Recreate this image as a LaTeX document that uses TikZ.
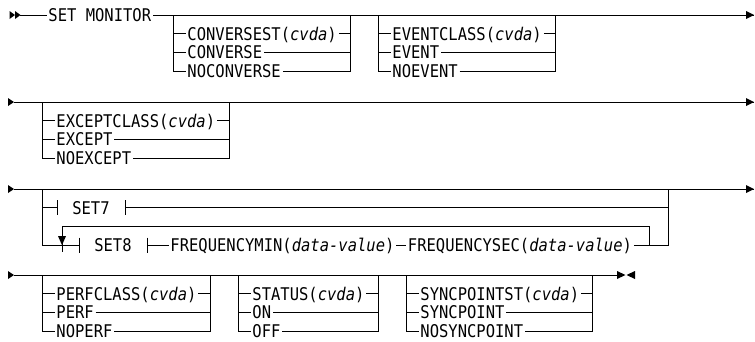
\documentclass[tikz,border=0pt]{standalone}
\usepackage{fontspec}
\setmainfont{DejaVu Sans Mono}[FakeStretch=0.886]
\begin{document}
\begin{tikzpicture}[x=1pt,y=-1pt,line width=0.9pt,
  lbl/.style={anchor=west,inner xsep=1.5pt,inner ysep=0pt,text height=12.8pt,text depth=0pt,
    font=\fontsize{17.5}{20}\selectfont},
  frag/.style={inner sep=0pt,minimum width=0pt,minimum height=14pt}]
\useasboundingbox (0,0) rectangle (755,341);
\def\dy{18.7}
\newcommand\rrgroup[7]{%
  \coordinate (#1L) at (#2,#4);
  \coordinate (#1R) at (#3,#4);
  \node[lbl] (#1a) at (#2+12.5,#4+\dy) {#5};
  \node[lbl] (#1b) at (#2+12.5,#4+2*\dy) {#6};
  \node[lbl] (#1c) at (#2+12.5,#4+3*\dy) {#7};
  \draw (#1L) |- (#1c.west);
  \draw (#1L |- #1a) -- (#1a.west);
  \draw (#1L |- #1b) -- (#1b.west);
  \draw (#1c.east) -| (#1R);
  \draw (#1a.east) -- (#1a -| #1R);
  \draw (#1b.east) -- (#1b -| #1R);
}
% ---------------- Row 1
\coordinate (s1) at (20,15);
\fill (9.5,11) -- (15,15) -- (9.5,19) -- cycle;
\fill (15,11) -- (20.5,15) -- (15,19) -- cycle;
\node[lbl] (setmon) at (46.5,15) {SET MONITOR};
\coordinate (e1) at (754,15);
\draw (s1) -- (setmon.west);
\draw (setmon.east) -- (e1);
\fill (e1) -- ++(-8,-4) -- ++(0,8) -- cycle;
\rrgroup{ga}{173}{350}{15}{CONVERSEST(\textit{cvda})}{CONVERSE}{NOCONVERSE}
\rrgroup{gb}{378}{555}{15}{EVENTCLASS(\textit{cvda})}{EVENT}{NOEVENT}
% ---------------- Row 2
\coordinate (s2) at (14,102);
\coordinate (e2) at (754,102);
\fill (s2) -- ++(-6,-4) -- ++(0,8) -- cycle;
\draw (s2) -- (e2);
\fill (e2) -- ++(-8,-4) -- ++(0,8) -- cycle;
\rrgroup{gc}{42}{229}{102}{EXCEPTCLASS(\textit{cvda})}{EXCEPT}{NOEXCEPT}
% ---------------- Row 3
\coordinate (s3) at (14,189);
\coordinate (e3) at (754,189);
\fill (s3) -- ++(-6,-4) -- ++(0,8) -- cycle;
\draw (s3) -- (e3);
\fill (e3) -- ++(-8,-4) -- ++(0,8) -- cycle;
\coordinate (L3) at (42,189);
\coordinate (R3) at (668,189);
% SET7
\node[frag] (b7a) at (57,189+\dy) {};
\node[lbl,anchor=center] (set7) at (91,189+\dy) {SET7};
\node[frag] (b7b) at (125,189+\dy) {};
\draw (b7a.north) -- (b7a.south);
\draw (b7b.north) -- (b7b.south);
\draw (L3) |- (b7a.center);
\draw (b7b.center) -| (R3);
% SET8
\node[frag] (b8a) at (79,189+3*\dy) {};
\node[lbl,anchor=center] (set8) at (113,189+3*\dy) {SET8};
\node[frag] (b8b) at (147,189+3*\dy) {};
\draw (b8a.north) -- (b8a.south);
\draw (b8b.north) -- (b8b.south);
\draw (L3) |- (b8a.center);
\node[lbl] (fmin) at (168.5,189+3*\dy) {FREQUENCYMIN(\textit{data-value})};
\node[lbl] (fsec) at (406,189+3*\dy) {FREQUENCYSEC(\textit{data-value})};
\draw (b8b.center) -- (fmin.west);
\draw (fmin.east) -- (fsec.west);
\coordinate (ri) at (649,189+3*\dy);
\draw (fsec.east) -- (ri) -- (ri -| R3) -- (R3);
% loop back
\coordinate (lt) at (62,189+2*\dy);
\coordinate (ltip) at (62,189+3*\dy);
\draw (ri) -- (ri |- lt) -- (lt) -- ([yshift=-7pt]ltip);
\fill (ltip) -- ++(-4,-9) -- ++(8,0) -- cycle;
% ---------------- Row 4
\coordinate (s4) at (14,275);
\coordinate (e4) at (617,275);
\fill (s4) -- ++(-6,-4) -- ++(0,8) -- cycle;
\draw (s4) -- (e4);
\fill (e4) -- ++(0,-4) -- ++(8.5,4) -- ++(-8.5,4) -- cycle;
\fill (635,275) -- ++(0,-4) -- ++(-8.5,4) -- ++(8.5,4) -- cycle;
\rrgroup{gd}{42}{210}{275}{PERFCLASS(\textit{cvda})}{PERF}{NOPERF}
\rrgroup{ge}{238}{378}{275}{STATUS(\textit{cvda})}{ON}{OFF}
\rrgroup{gf}{406}{592}{275}{SYNCPOINTST(\textit{cvda})}{SYNCPOINT}{NOSYNCPOINT}
\end{tikzpicture}
\end{document}
